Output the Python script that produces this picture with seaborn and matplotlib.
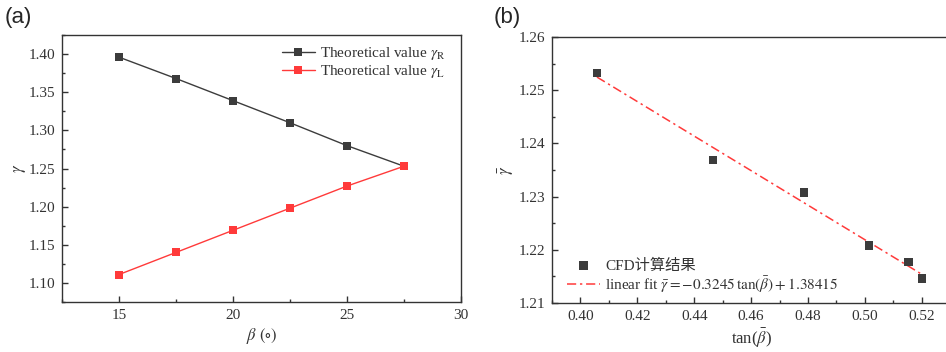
import numpy as np
import pandas as pd
import matplotlib
matplotlib.use("Agg")
import matplotlib.pyplot as plt
from matplotlib.ticker import MultipleLocator, FormatStrFormatter
import seaborn as sns

# ---- data ----
beta_deg = [15, 17.5, 20, 22.5, 25, 27.5]
gamma_R = [1.396, 1.368, 1.339, 1.310, 1.280, 1.253]
gamma_L = [1.111, 1.140, 1.169, 1.198, 1.227, 1.253]

tan_beta = [0.4058, 0.4466, 0.4786, 0.5015, 0.5154, 0.5201]
gamma_cfd = [1.2532, 1.2369, 1.2308, 1.2208, 1.2177, 1.2146]
fit_slope = -0.3245
fit_intercept = 1.38415

sns.set_theme(style="ticks")
plt.rcParams['font.family'] = ['Liberation Serif', 'Noto Sans CJK SC', 'DejaVu Sans']
plt.rcParams['mathtext.fontset'] = 'stix'
plt.rcParams['axes.edgecolor'] = '#333333'
plt.rcParams['axes.linewidth'] = 1.0
plt.rcParams['xtick.color'] = '#333333'
plt.rcParams['ytick.color'] = '#333333'
plt.rcParams['xtick.direction'] = 'in'
plt.rcParams['ytick.direction'] = 'in'

fig = plt.figure(figsize=(9.46, 3.52), dpi=100)
ax1 = fig.add_axes([0.0655, 0.142, 0.4218, 0.7585])
ax2 = fig.add_axes([0.5835, 0.139, 0.421, 0.756])

lab_R = r"Theoretical value $\gamma_{\rm R}$"
lab_L = r"Theoretical value $\gamma_{\rm L}$"
dfa = pd.DataFrame({
    "beta": beta_deg * 2,
    "gamma": gamma_R + gamma_L,
    "series": [lab_R] * len(beta_deg) + [lab_L] * len(beta_deg),
})
pal = {lab_R: "#3c3c3c", lab_L: "#ff3a3a"}
sns.lineplot(data=dfa, x="beta", y="gamma", hue="series", palette=pal,
             marker="s", markersize=5.5, markeredgewidth=0, linewidth=1.0,
             ax=ax1)
ax1.set_xlim(12.5, 30)
ax1.set_ylim(1.075, 1.425)
ax1.xaxis.set_major_locator(MultipleLocator(5))
ax1.xaxis.set_minor_locator(MultipleLocator(2.5))
ax1.yaxis.set_major_locator(MultipleLocator(0.05))
ax1.yaxis.set_minor_locator(MultipleLocator(0.025))
ax1.yaxis.set_major_formatter(FormatStrFormatter('%.2f'))
ax1.set_xlabel(r"$\beta$ $(\circ)$", fontsize=12, color='#333333', labelpad=3)
ax1.set_ylabel(r"$\gamma$", fontsize=12, color='#333333', labelpad=0)
leg = ax1.legend(loc="upper left", frameon=False, fontsize=11,
                 handlelength=2.2, handletextpad=0.3, labelspacing=0.05,
                 borderaxespad=0.0, bbox_to_anchor=(0.535, 0.985))
for t in leg.get_texts():
    t.set_color('#333333')

dfb = pd.DataFrame({"tanb": tan_beta, "gamma": gamma_cfd})
fit_x = np.array([min(tan_beta), max(tan_beta)])
dff = pd.DataFrame({"tanb": fit_x, "gamma": fit_slope * fit_x + fit_intercept})
sns.scatterplot(data=dfb, x="tanb", y="gamma", marker="s", s=38, color="#3c3c3c",
                edgecolor="none", ax=ax2, label="CFD计算结果", zorder=3)
sns.lineplot(data=dff, x="tanb", y="gamma", color="#ff3a3a", linewidth=1.1,
             linestyle=(0, (6, 2.5, 1.5, 2.5)), ax=ax2,
             label=r"linear fit $\bar{\gamma}=-0.3245\,\tan(\bar{\beta})+1.38415$")
ax2.set_xlim(0.39, 0.53)
ax2.set_ylim(1.21, 1.26)
ax2.xaxis.set_major_locator(MultipleLocator(0.02))
ax2.xaxis.set_minor_locator(MultipleLocator(0.01))
ax2.yaxis.set_major_locator(MultipleLocator(0.01))
ax2.yaxis.set_minor_locator(MultipleLocator(0.005))
ax2.xaxis.set_major_formatter(FormatStrFormatter('%.2f'))
ax2.yaxis.set_major_formatter(FormatStrFormatter('%.2f'))
ax2.set_xlabel(r"tan($\bar{\beta}$)", fontsize=12, color='#333333', labelpad=3)
ax2.set_ylabel(r"$\bar{\gamma}$", fontsize=12, color='#333333', labelpad=2)
leg2 = ax2.legend(loc="lower left", frameon=False, fontsize=11,
                  handlelength=2.2, handletextpad=0.3, labelspacing=0.1,
                  borderaxespad=0.0, bbox_to_anchor=(0.022, 0.008))
for t in leg2.get_texts():
    t.set_color('#333333')

for ax in (ax1, ax2):
    ax.tick_params(which='major', length=4, width=1, labelsize=11, pad=5)
    ax.tick_params(which='minor', length=2, width=1)
    for s in ax.spines.values():
        s.set_visible(True)

fig.text(0.005, 0.98, "(a)", fontsize=16, family=['Liberation Sans'], va='top', ha='left')
fig.text(0.522, 0.98, "(b)", fontsize=16, family=['Liberation Sans'], va='top', ha='left')

fig.savefig("out.png", dpi=100)
